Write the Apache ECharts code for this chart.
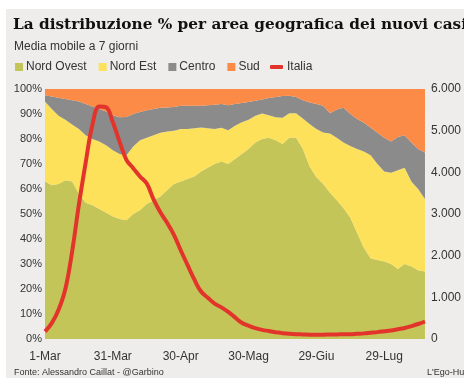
<!DOCTYPE html>
<html><head><meta charset="utf-8">
<script src="https://cdn.jsdelivr.net/npm/echarts@6/dist/echarts.min.js"></script>
<style>html,body{margin:0;padding:0;background:#fff}#c{width:464px;height:388px}</style>
</head><body><div id="c"></div>
<script>
// day offset from 1 March (every 3 days)
const days = [0,3,6,9,12,15,18,21,24,27,30,33,36,39,42,45,48,51,54,57,60,63,66,69,72,75,78,81,84,87,90,93,96,99,102,105,108,111,114,117,120,123,126,129,132,135,138,141,144,147,150,153,156,159,162,165,168];
const tickLabels = ['1-Mar','31-Mar','30-Apr','30-Mag','29-Giu','29-Lug'];
const tickDays = [0,30,60,90,120,150];
const nordOvest = [63,61.5,62,63.5,63,58,54.5,53.5,52,50.5,49,48,47.5,50,51.5,54,55.5,57,59.5,62,63,64,65,67,68.5,70,71,70,72,74,76,78.6,80,80.5,79.5,78,80.5,80.5,76,69,64.7,62,58.5,55.5,52.3,48.5,42.4,36.4,32.2,31.6,31,30,28,30,29,27.5,27];
const nordEst = [32,30.5,27.3,24.2,22.8,26,27,26.5,27,27,26.5,26,26,27,28,26.5,26,25.5,23.5,21.3,21,20,19.3,17.6,15.8,14,13.5,13.5,13.3,12.7,11.7,10.7,10.2,9,9.2,10.5,9.8,9.8,12.2,17,19.3,20.6,23.7,25,26.3,28.7,33.6,38.6,41.3,38.4,36,36.5,39.5,38.5,34,32.5,29];
const centro = [2.5,5,7.2,8.3,9.7,11,12.5,13,13,13.5,14,14.7,15.3,13,11.3,11,10.5,10,9.6,9.5,9.3,9.3,9,8.7,9.2,9.7,9.5,10,8.7,7.7,7.1,6,5.6,6.9,8.1,8.7,7,6.5,7.3,8.6,10,10.7,8.1,11.3,13.9,12.8,12,11.5,11,12.5,13.5,12.5,13.3,13,15.6,16,18.6];
const sud = [2.5,3,3.5,4,4.5,5,6,7,8,9,10.5,11.3,11.2,10,9.2,8.5,8,7.5,7.4,7.2,6.7,6.7,6.7,6.7,6.5,6.3,6,6.5,6,5.6,5.2,4.7,4.2,3.6,3.2,2.8,2.7,3.2,4.5,5.4,6,6.7,9.7,8.2,7.5,10,12,13.5,15.5,17.5,19.5,21,19.2,18.5,21.4,24,25.4];
const italia = [180,380,700,1200,2100,3230,4240,5150,5580,5560,5200,4730,4300,4100,3900,3730,3350,3040,2790,2500,2130,1780,1430,1140,990,850,760,650,520,390,320,260,220,190,160,140,125,115,110,105,105,105,108,110,113,115,125,135,150,165,185,205,235,265,310,360,420];

const SANS = "'Liberation Sans', Arial, sans-serif";
const chart = echarts.init(document.getElementById('c'), null, {renderer:'canvas'});
const area = (name, arr, color) => ({
  name, type:'line', stack:'tot', data: arr, symbol:'none', smooth:false,
  lineStyle:{width:0}, areaStyle:{color, opacity:1}, itemStyle:{color}, z:2
});
chart.setOption({
  animation:false,
  backgroundColor:'#ffffff',
  graphic:[
    {type:'rect', z:-10, shape:{x:6,y:9,width:470,height:369}, style:{fill:'#eeedeb'}},
    {type:'text', left:13, top:18, style:{text:'La distribuzione % per area geografica dei nuovi casi', font:"bold 15.3px 'DejaVu Serif', serif", fill:'#111'}},
    {type:'text', left:14, top:41, style:{text:'Media mobile a 7 giorni', font:"12px "+SANS, fill:'#333'}},
    {type:'text', left:14, top:368, style:{text:'Fonte: Alessandro Caillat - @Garbino', font:"9px "+SANS, fill:'#333'}},
    {type:'text', left:427, top:368, style:{text:"L'Ego-Hub", font:"9px "+SANS, fill:'#333'}}
  ],
  legend:[
    {left:15, top:61, padding:0, itemWidth:8, itemHeight:8, itemGap:12, icon:'rect',
     textStyle:{fontFamily:SANS, fontSize:12, color:'#333', padding:[0,0,0,-2]},
     data:['Nord Ovest','Nord Est','Centro','Sud']},
    {left:270, top:61, padding:0, itemWidth:13, itemHeight:4, icon:'roundRect',
     textStyle:{fontFamily:SANS, fontSize:12, color:'#333', padding:[0,0,0,-1]},
     data:['Italia']}
  ],
  grid:{left:45, right:32, top:89, bottom:49},
  xAxis:{type:'category', boundaryGap:false, data: days.map(String),
    axisLine:{show:false}, axisTick:{show:false}, splitLine:{show:false},
    axisLabel:{margin:12, fontFamily:SANS, fontSize:12, color:'#333',
      interval:(i, v) => tickDays.indexOf(+v) >= 0,
      formatter: v => { const k = tickDays.indexOf(+v); return k>=0 ? tickLabels[k] : ''; }}},
  yAxis:[
    {type:'value', min:0, max:100, interval:10, position:'left',
     axisLine:{show:false}, axisTick:{show:false}, splitLine:{show:false},
     axisLabel:{margin:3, fontFamily:SANS, fontSize:11, color:'#333', formatter:'{value}%'}},
    {type:'value', min:0, max:6000, interval:1000, position:'right',
     axisLine:{show:false}, axisTick:{show:false}, splitLine:{show:false},
     axisLabel:{margin:6, fontFamily:SANS, fontSize:12, color:'#333',
       formatter: v => v===0 ? '0' : (v/1000)+'.000'}}
  ],
  series:[
    area('Nord Ovest', nordOvest, '#c4c558'),
    area('Nord Est', nordEst, '#fde15b'),
    area('Centro', centro, '#8b8b8b'),
    area('Sud', sud, '#fc8b47'),
    {name:'Italia', type:'line', yAxisIndex:1, data:italia, symbol:'none', smooth:0.4,
     lineStyle:{width:4, color:'#e3342c'}, itemStyle:{color:'#e3342c'}, z:5}
  ]
});
</script></body></html>
